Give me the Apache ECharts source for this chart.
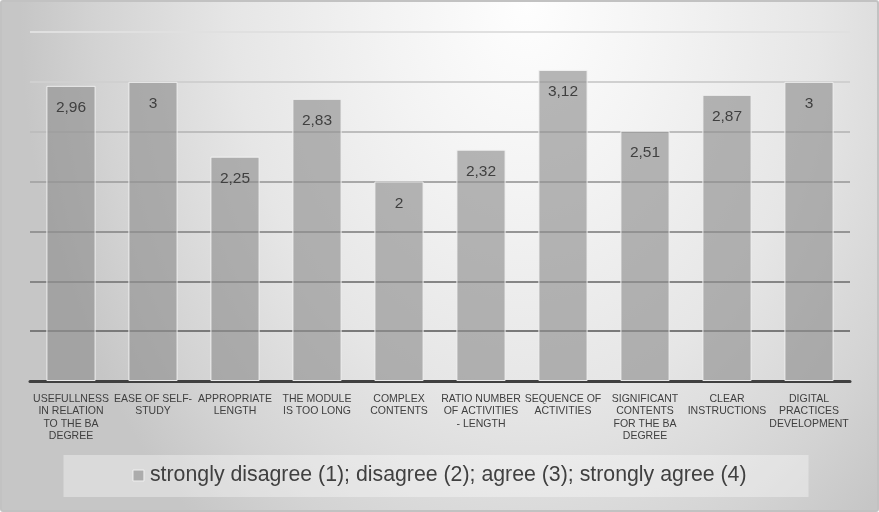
<!DOCTYPE html>
<html>
<head>
<meta charset="utf-8">
<script src="https://cdn.jsdelivr.net/npm/echarts@6/dist/echarts.min.js"></script>
<style>
html,body{margin:0;padding:0;background:#fff}
#c{width:879px;height:512px;box-sizing:border-box;border:2px solid #c2c2c2;border-radius:3px;
background:radial-gradient(ellipse 58% 135% at 60% 0%, #fefefe 0%, #f3f3f3 28%, #e6e6e6 58%, #d3d3d3 85%, #c6c6c6 100%);}
</style>
</head>
<body>
<div id="c"></div>
<script>
const categories = [
  "USEFULLNESS\nIN RELATION\nTO THE BA\nDEGREE",
  "EASE OF SELF-\nSTUDY",
  "APPROPRIATE\nLENGTH",
  "THE MODULE\nIS TOO LONG",
  "COMPLEX\nCONTENTS",
  "RATIO NUMBER\nOF ACTIVITIES\n- LENGTH",
  "SEQUENCE OF\nACTIVITIES",
  "SIGNIFICANT\nCONTENTS\nFOR THE BA\nDEGREE",
  "CLEAR\nINSTRUCTIONS",
  "DIGITAL\nPRACTICES\nDEVELOPMENT"
];
const values = [2.96, 3, 2.25, 2.83, 2, 2.32, 3.12, 2.51, 2.87, 3];
const seriesName = "strongly disagree (1); disagree (2); agree (3); strongly agree (4)";
const yMin = 0, yMax = 3.5, yInterval = 0.5;

const el = document.getElementById('c');
const chart = echarts.init(el, null, {renderer:'canvas', width:875, height:508});
const barColor = 'rgba(145,145,145,0.65)';
chart.setOption({
  animation:false,
  backgroundColor:'transparent',
  grid:{left:28, right:27, top:30, bottom:129},
  legend:{left:'center', top:453, padding:[10,62,11,69], backgroundColor:'rgba(255,255,255,0.35)',
    itemWidth:11, itemHeight:11, itemGap:5,
    icon:'rect',
    itemStyle:{color:'#acacac', borderColor:'#f0f0f0', borderWidth:1},
    textStyle:{fontFamily:'Liberation Sans, Arial', fontSize:21.3, color:'#404040', padding:[0,0,0,1]}},
  xAxis:{type:'category', data:categories,
    axisLine:{lineStyle:{color:'#404040', width:3}},
    axisTick:{show:false},
    axisLabel:{interval:0, fontFamily:'Liberation Sans, Arial', fontSize:10.5, color:'#404040', lineHeight:12.3, margin:12}},
  yAxis:{type:'value', min:yMin, max:yMax, interval:yInterval,
    axisLabel:{show:false}, axisLine:{show:false}, axisTick:{show:false},
    splitLine:{lineStyle:{width:2, color:['#777777','#7a7a7a','#868686','#959595','#a8a8a8','#bdbdbd','#d0d0d0','#e0e0e0']}}},
  series:[{name:seriesName, type:'bar', data:values, barWidth:'60%', z:3,
    itemStyle:{color:barColor, borderColor:'rgba(242,242,242,0.95)', borderWidth:1},
    label:{show:true, position:'insideTop', distance:14, fontFamily:'Liberation Sans, Arial', fontSize:15.5, color:'#404040',
      formatter:p=>String(p.value).replace('.',',')}}]
});
</script>
</body>
</html>
